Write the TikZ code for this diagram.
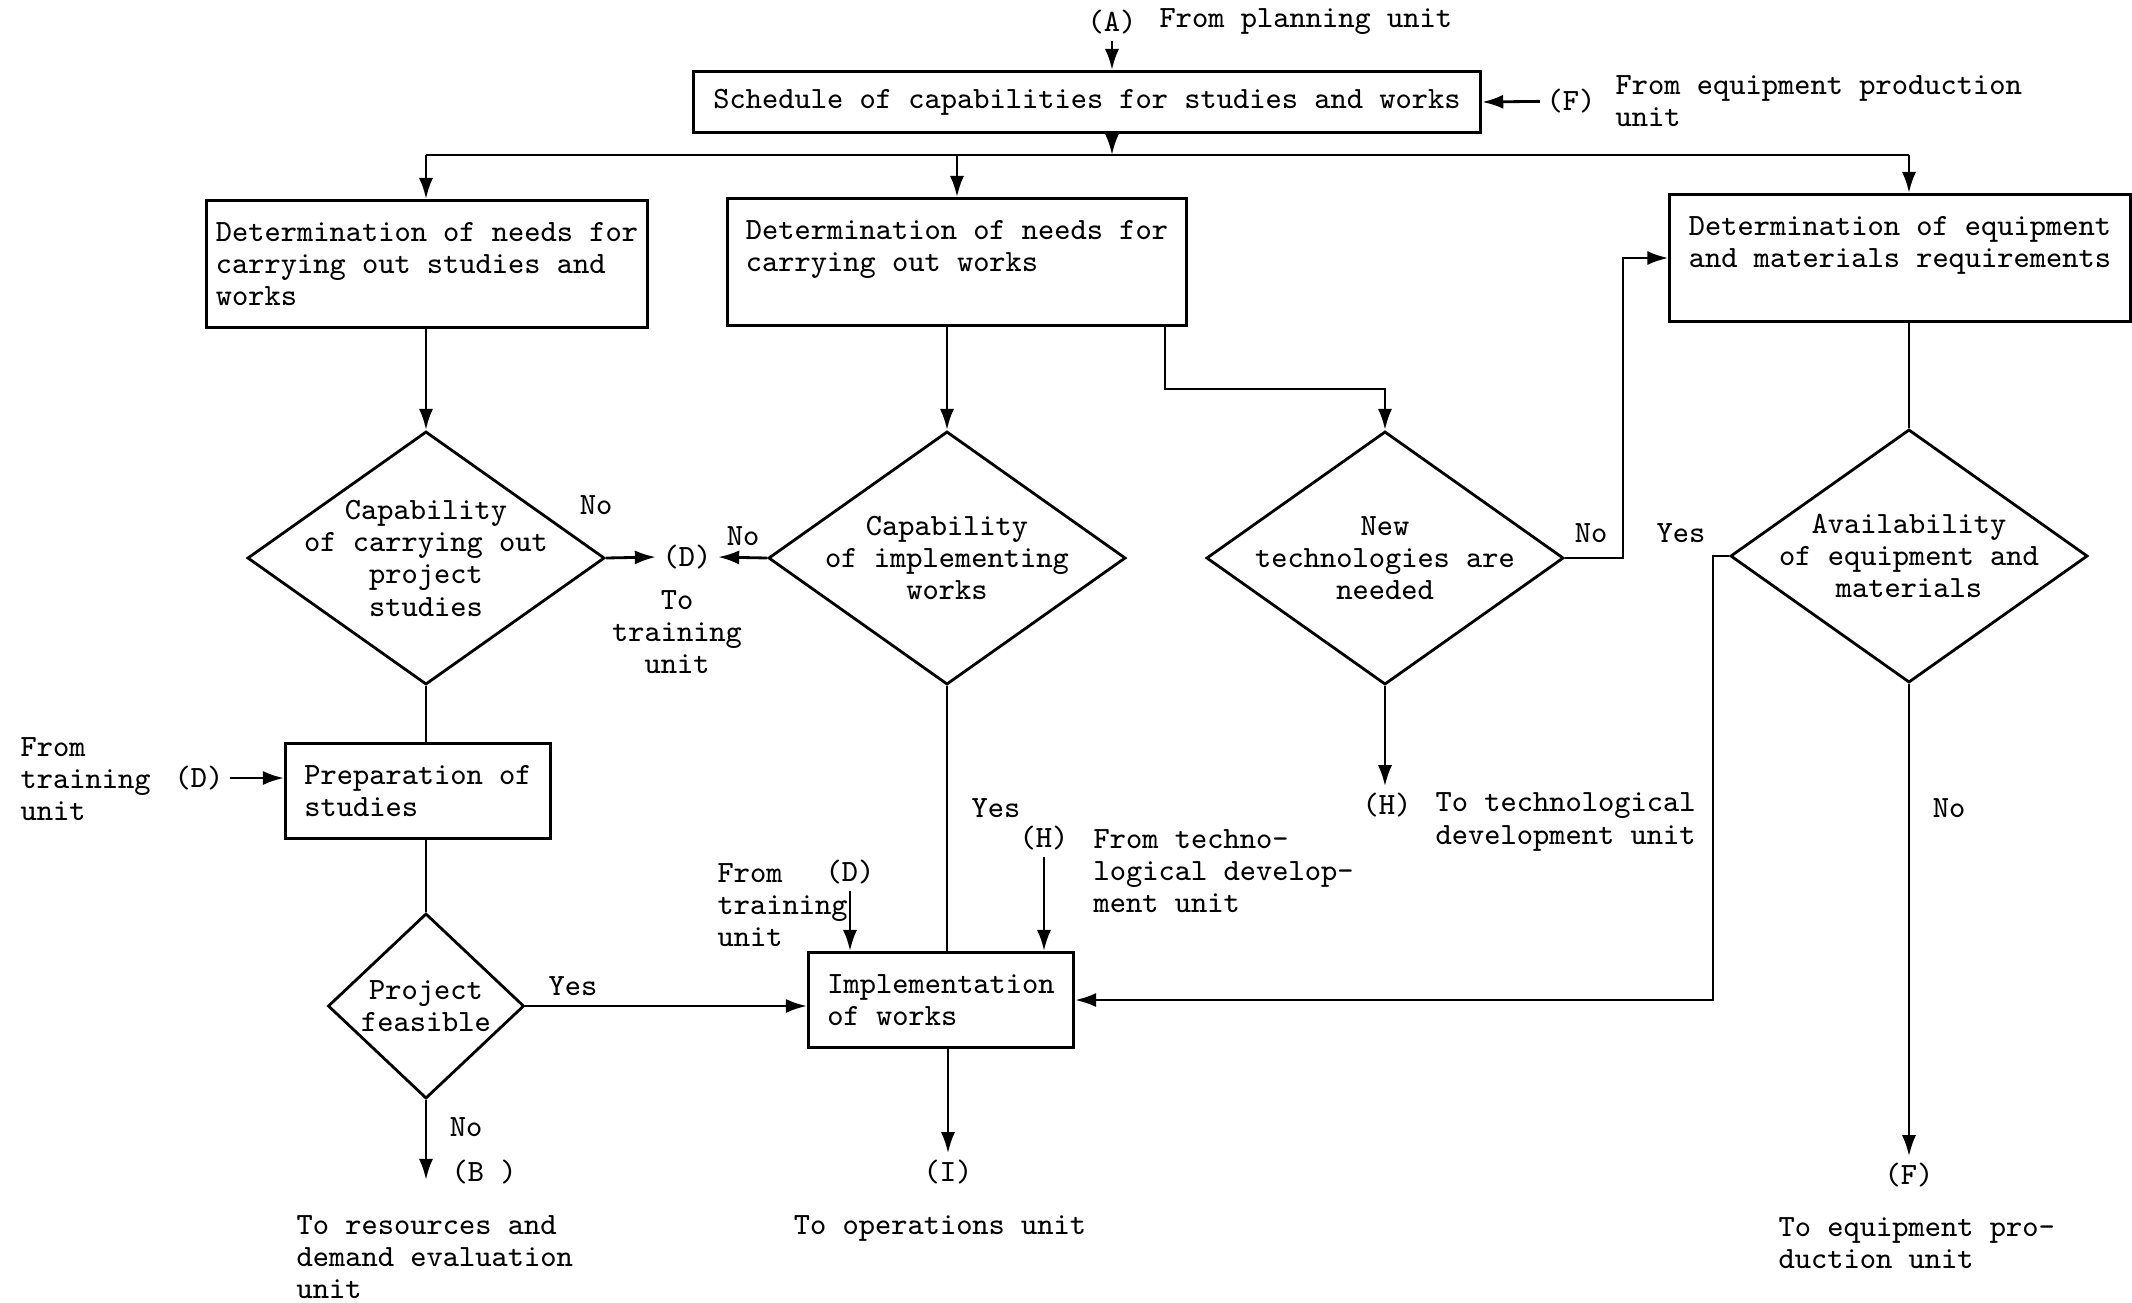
\documentclass[tikz,border=0pt]{standalone}
\usetikzlibrary{shapes.geometric,arrows.meta,positioning}
\begin{document}
\begin{tikzpicture}[x=0.01cm,y=-0.01cm,line width=0.8pt,
  font=\fontsize{8.8}{9.2}\selectfont\ttfamily,
  >={Latex[length=6pt,width=4pt]},
  box/.style={draw,rectangle,align=left,inner sep=0pt},
  decision/.style={draw,diamond,align=center,aspect=1.41,inner sep=-5pt,minimum width=3.57cm,minimum height=2.53cm},
  lbl/.style={inner sep=1.5pt,align=left},
  ctr/.style={inner sep=1.5pt,align=center}]
\useasboundingbox (0,0) rectangle (2132,1302);
\node[lbl] (srcA) at (1112,22) {(A)};
\node[lbl,right=0.1cm of srcA] (srcAtxt) {From planning unit};
\node[box,minimum width=7.87cm,minimum height=0.61cm] (sched) at (1087,102) {Schedule of capabilities for studies and works};
\draw[->] (srcA) -- (srcA |- sched.north);
\node[lbl] (srcF) at (1571,101) {(F)};
\node[lbl,anchor=west] (srcFtxt) at (1609,101) {From equipment production\\unit};
\draw[->] (srcF) -- (sched.east);
\node[box,minimum width=4.40cm,minimum height=1.27cm] (needst) at (427,264) {Determination of needs for\\carrying out studies and\\works};
\node[box,minimum width=4.58cm,minimum height=1.27cm] (needwk) at (957,262) {Determination of needs for\\carrying out works\\~};
\node[box,minimum width=4.60cm,minimum height=1.27cm] (equip) at (1900,258) {Determination of equipment\\and materials requirements\\~};
\node[decision] (capstud) at (426,558) {Capability\\of carrying out\\project\\studies};
\node[decision] (capimpl) at (947,558) {Capability\\of implementing\\works};
\node[decision] (newtech) at (1385,558) {New\\technologies are\\needed};
\node[decision] (avail) at (1909,556) {Availability\\of equipment and\\materials};
\coordinate (bus) at (1112,155);
\draw[->] (sched.south -| srcA) -- (bus);
\draw (bus -| capstud) -- (bus -| avail);
\draw[->] (bus -| capstud) -- (needst.north -| capstud);
\draw[->] (bus -| needwk) -- (needwk.north);
\draw[->] (bus -| avail) -- (equip.north -| avail);
\draw[->] (needst.south -| capstud) -- (capstud.north);
\draw[->] (needwk.south -| capimpl) -- (capimpl.north);
\coordinate (kink) at (1165,389);
\draw[->] (kink |- needwk.south) -- (kink) -| (newtech.north);
\draw (equip.south -| avail) -- (avail.north);
\node[lbl] (toD) at (687,557) {(D)};
\node[ctr] (toDtxt) at (677,632) {To\\training\\unit};
\draw[->] (capstud.east) -- (toD.west);
\draw[->] (capimpl.west) -- (toD.east);
\node[lbl] at (596,505) {No};
\node[lbl] at (743,536) {No};
\draw[->] (newtech.east) -- ++(58,0) |- (equip.west);
\node[lbl] at (1591,533) {No};
\node[lbl] (toH) at (1387,805) {(H)};
\node[lbl,anchor=west] (toHtxt) at (1429,822) {To technological\\development unit};
\draw[->] (newtech.south) -- (newtech.south |- toH.north);
\node[box,minimum width=2.65cm,minimum height=0.95cm] (prep) at (418,791) {Preparation of\\studies};
\node[box,minimum width=2.65cm,minimum height=0.95cm] (impl) at (941,1000) {Implementation\\of works};
\node[decision,minimum width=1.96cm,minimum height=1.85cm] (feas) at (426,1006) {Project\\feasible};
\draw (capstud.south) -- (capstud.south |- prep.north);
\node[lbl] (fromDp) at (199,778) {(D)};
\node[lbl,anchor=west] (fromDptxt) at (14,779) {From\\training\\unit};
\draw[->] (fromDp.east) -- (fromDp.east -| prep.west);
\draw (prep.south -| feas) -- (feas.north);
\draw[->] (feas.east) -- (feas.east -| impl.west);
\node[lbl] at (573,986) {Yes};
\coordinate (toBend) at (426,1180);
\draw[->] (feas.south) -- (toBend);
\node[lbl] (toB) at (484,1172) {(B )};
\node[lbl] at (466,1127) {No};
\node[lbl,anchor=west] (toBtxt) at (290,1257) {To resources and\\demand evaluation\\unit};
\draw (capimpl.south) -- (capimpl.south |- impl.north);
\node[lbl] at (996,808) {Yes};
\node[lbl] (fromDi) at (850,872) {(D)};
\node[lbl,anchor=west] (fromDitxt) at (711,905) {From\\training\\unit};
\draw[->] (fromDi.south) -- (fromDi.south |- impl.north);
\node[lbl] (fromH) at (1044,838) {(H)};
\node[lbl,anchor=west] (fromHtxt) at (1087,871) {From techno-\\logical develop-\\ment unit};
\draw[->] (fromH.south) -- (fromH.south |- impl.north);
\node[lbl] (toI) at (948,1172) {(I)};
\node[lbl] (toItxt) at (940,1228) {To operations unit};
\draw[->] (impl.south -| toI) -- (toI.north);
\draw[->] (avail.west) -- ++(-16,0) |- (impl.east);
\node[lbl] at (1681,533) {Yes};
\node[lbl] (toF) at (1909,1175) {(F)};
\node[lbl,anchor=west] (toFtxt) at (1772,1243) {To equipment pro-\\duction unit};
\draw[->] (avail.south) -- (toF.north);
\node[lbl] at (1949,808) {No};
\end{tikzpicture}
\end{document}
